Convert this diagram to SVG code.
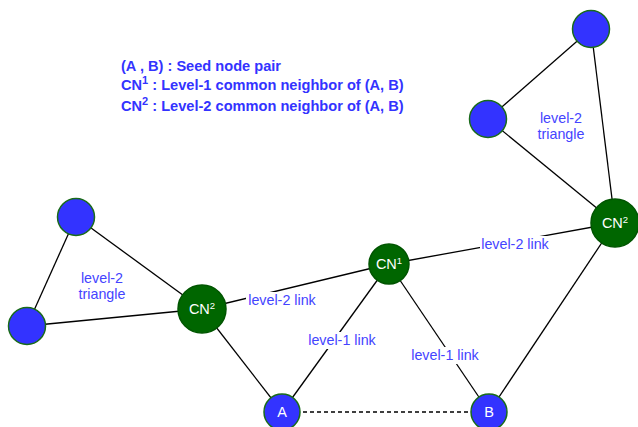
<svg xmlns="http://www.w3.org/2000/svg" width="638" height="427" viewBox="0 0 638 427">
  <style>
    .edge { stroke: #000; stroke-width: 1.3; fill: none; }
    .dash { stroke-dasharray: 4 3; }
    .blue { fill: #3333ff; stroke: #1a6b1a; stroke-width: 1.5; }
    .green { fill: #006600; stroke: #005500; stroke-width: 1.5; }
    .nlabel { font-family: "Liberation Sans", Arial, sans-serif; font-size: 14.5px; fill: #fff; text-anchor: middle; }
    .elabel { font-family: "Liberation Sans", Arial, sans-serif; font-size: 14.3px; fill: #4444ff; text-anchor: middle; }
    .legend { font-family: "Liberation Sans", Arial, sans-serif; font-size: 14.6px; font-weight: bold; fill: #3333ff; }
    .bg { fill: #fff; }
  </style>
  <rect width="638" height="427" fill="#fff"/>

  <!-- legend -->
  <g id="legend">
    <text class="legend" x="121" y="70.5">(A , B) : Seed node pair</text>
    <text class="legend" x="121" y="90">CN<tspan font-size="11" dy="-6">1</tspan><tspan dy="6"> : Level-1 common neighbor of (A, B)</tspan></text>
    <text class="legend" x="121" y="110.5">CN<tspan font-size="11" dy="-6">2</tspan><tspan dy="6"> : Level-2 common neighbor of (A, B)</tspan></text>
  </g>

  <!-- connectors -->
  <g id="connectors">
    <line class="edge" x1="76" y1="217" x2="27" y2="326"/>
    <line class="edge" x1="76" y1="217" x2="202" y2="309"/>
    <line class="edge" x1="27" y1="326" x2="202" y2="309"/>
    <line class="edge" x1="202" y1="309" x2="389" y2="264"/>
    <line class="edge" x1="202" y1="309" x2="282" y2="412"/>
    <line class="edge" x1="389" y1="264" x2="282" y2="412"/>
    <line class="edge" x1="389" y1="264" x2="489" y2="412"/>
    <line class="edge" x1="389" y1="264" x2="615" y2="223"/>
    <line class="edge" x1="615" y1="223" x2="489" y2="412"/>
    <line class="edge" x1="615" y1="223" x2="591" y2="29"/>
    <line class="edge" x1="615" y1="223" x2="488" y2="119"/>
    <line class="edge" x1="591" y1="29" x2="488" y2="119"/>
    <line class="edge dash" x1="282" y1="412" x2="489" y2="412"/>

    <!-- connector labels -->
    <rect class="bg" x="246" y="292" width="72" height="17"/>
    <text class="elabel" x="282" y="305">level-2 link</text>
    <rect class="bg" x="480" y="236" width="70" height="17"/>
    <text class="elabel" x="515" y="249">level-2 link</text>
    <rect class="bg" x="309" y="332" width="66" height="17"/>
    <text class="elabel" x="342" y="345">level-1 link</text>
    <rect class="bg" x="412" y="347" width="66" height="17"/>
    <text class="elabel" x="445" y="360">level-1 link</text>
  </g>

  <!-- triangle captions -->
  <g id="caption-left">
    <text class="elabel" x="102" y="283">level-2</text>
    <text class="elabel" x="102" y="299">triangle</text>
  </g>
  <g id="caption-right">
    <text class="elabel" x="561" y="123">level-2</text>
    <text class="elabel" x="561" y="139">triangle</text>
  </g>

  <!-- nodes -->
  <g id="node-t1"><circle class="blue" cx="76" cy="217" r="18.5"/></g>
  <g id="node-t2"><circle class="blue" cx="27" cy="326" r="18.5"/></g>
  <g id="node-cn2-left"><circle class="green" cx="202" cy="309" r="24"/>
    <text class="nlabel" x="202" y="314">CN<tspan font-size="9.5" dy="-5">2</tspan></text></g>
  <g id="node-cn1"><circle class="green" cx="389" cy="264" r="20"/>
    <text class="nlabel" x="389" y="269">CN<tspan font-size="9.5" dy="-5">1</tspan></text></g>
  <g id="node-cn2-right"><circle class="green" cx="615" cy="223" r="24"/>
    <text class="nlabel" x="615" y="228">CN<tspan font-size="9.5" dy="-5">2</tspan></text></g>
  <g id="node-t3"><circle class="blue" cx="591" cy="29" r="18.5"/></g>
  <g id="node-t4"><circle class="blue" cx="488" cy="119" r="18.5"/></g>
  <g id="node-a"><circle class="blue" cx="282" cy="412" r="18"/>
    <text class="nlabel" x="282" y="417">A</text></g>
  <g id="node-b"><circle class="blue" cx="489" cy="412" r="18"/>
    <text class="nlabel" x="489" y="417">B</text></g>
</svg>
